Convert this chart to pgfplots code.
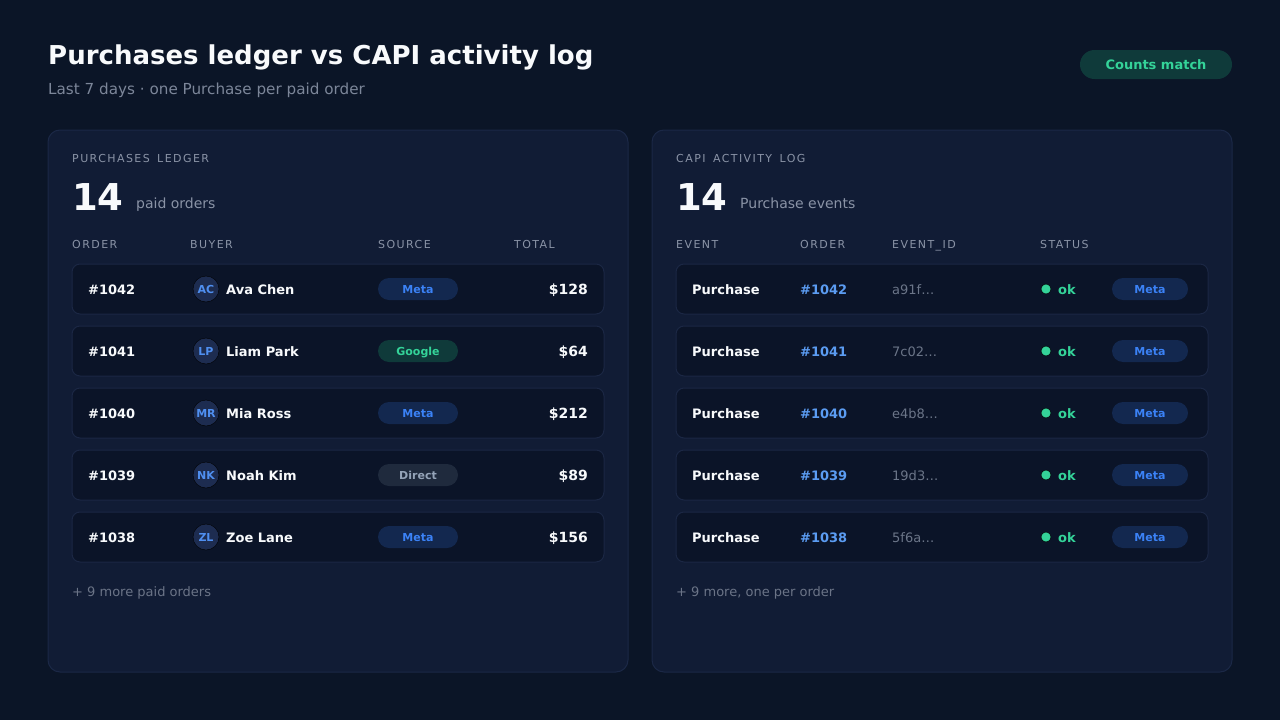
\documentclass[border=0pt]{standalone}
\usepackage{pgfplots}
\pgfplotsset{compat=1.18}
\usepackage{fontspec}
\setmainfont{DejaVu Sans}
\newfontfamily\spaced[LetterSpace=13]{DejaVu Sans}
\newcommand\fs[1]{\fontsize{#1}{#1}\selectfont}
\newcommand\wsp{\ \hspace{2.5pt}}
\definecolor{bg}{HTML}{0B1527}
\definecolor{panel}{HTML}{111C35}
\definecolor{panelline}{HTML}{1B2846}
\definecolor{rowbg}{HTML}{0B1428}
\definecolor{rowline}{HTML}{1B2744}
\definecolor{titlec}{HTML}{F8FAFC}
\definecolor{subc}{HTML}{7C8699}
\definecolor{labc}{HTML}{8A93A6}
\definecolor{footc}{HTML}{6B7487}
\definecolor{avbg}{HTML}{1D2C50}
\definecolor{avfg}{HTML}{4F8FF0}
\definecolor{metabg}{HTML}{13284F}
\definecolor{metafg}{HTML}{3B82F6}
\definecolor{gbg}{HTML}{0F3A3A}
\definecolor{gfg}{HTML}{34D399}
\definecolor{dbg}{HTML}{1F2A3D}
\definecolor{dfg}{HTML}{94A3B8}
\definecolor{ordc}{HTML}{5B9CF2}
\definecolor{idc}{HTML}{6B7588}
\pgfplotsset{
  txt/.style={only marks, mark=*, mark size=0pt, mark options={draw=none,fill=none},
    nodes near coords, point meta=explicit symbolic,
    nodes near coords style={inner sep=0pt, anchor=base west, #1}},
  pill/.style={only marks, mark=*, mark size=0pt, mark options={draw=none,fill=none},
    nodes near coords, point meta=explicit symbolic,
    nodes near coords style={inner sep=0pt, anchor=center, rounded corners=11pt,
      minimum height=22pt, text height=8pt, text depth=0pt, font=\bfseries\fs{11}, #1}},
}
\begin{document}
\begin{tikzpicture}
\begin{axis}[at={(0,0)}, anchor=south west, scale only axis, width=1280pt, height=720pt,
  xmin=0, xmax=1280, ymin=0, ymax=720, y dir=reverse, hide axis, clip=false]
% background
\fill[bg] (axis cs:0,0) rectangle (axis cs:1280,720);
% header
\node[anchor=base west, inner sep=0pt, text=titlec, font=\bfseries\fs{26}] at (axis cs:48,64) {Purchases ledger vs CAPI activity log};
\node[anchor=base west, inner sep=0pt, text=subc, font=\fs{15.2}] at (axis cs:48,94) {Last 7 days · one Purchase per paid order};
\node[fill=gbg, text=gfg, rounded corners=14.5pt, minimum width=152pt, minimum height=29pt, text height=9.5pt, text depth=0pt, inner sep=0pt, font=\bfseries\fs{13}] at (axis cs:1156,64.5) {Counts match};
% panels
\draw[fill=panel, draw=panelline, line width=1pt, rounded corners=12pt] (axis cs:48,130) rectangle (axis cs:628,672);
\draw[fill=panel, draw=panelline, line width=1pt, rounded corners=12pt] (axis cs:652,130) rectangle (axis cs:1232,672);
% panel headings
\node[anchor=base west, inner sep=0pt, text=labc, font=\spaced\fs{11}] at (axis cs:72,162) {PURCHASES\wsp LEDGER};
\node[anchor=base west, inner sep=0pt, text=labc, font=\spaced\fs{11}] at (axis cs:676,162) {CAPI\wsp ACTIVITY\wsp LOG};
\node[anchor=base west, inner sep=0pt, text=titlec, font=\bfseries\fs{37}] at (axis cs:72,210) {14};
\node[anchor=base west, inner sep=0pt, text=labc, font=\fs{14}] at (axis cs:136,208) {paid orders};
\node[anchor=base west, inner sep=0pt, text=titlec, font=\bfseries\fs{37}] at (axis cs:676,210) {14};
\node[anchor=base west, inner sep=0pt, text=labc, font=\fs{14}] at (axis cs:740,208) {Purchase events};
% column headers
\addplot[txt={font=\spaced\fs{11}, text=labc}] table[x index=0, y index=1, meta index=2, col sep=comma, header=false] {
72,248,ORDER
190,248,BUYER
378,248,SOURCE
514,248,TOTAL
676,248,EVENT
800,248,ORDER
892,248,EVENT\_ID
1040,248,STATUS
};
% row boxes
\draw[fill=rowbg, draw=rowline, line width=1pt, rounded corners=8pt] (axis cs:72,264) rectangle (axis cs:604,314);
\draw[fill=rowbg, draw=rowline, line width=1pt, rounded corners=8pt] (axis cs:72,326) rectangle (axis cs:604,376);
\draw[fill=rowbg, draw=rowline, line width=1pt, rounded corners=8pt] (axis cs:72,388) rectangle (axis cs:604,438);
\draw[fill=rowbg, draw=rowline, line width=1pt, rounded corners=8pt] (axis cs:72,450) rectangle (axis cs:604,500);
\draw[fill=rowbg, draw=rowline, line width=1pt, rounded corners=8pt] (axis cs:72,512) rectangle (axis cs:604,562);
\draw[fill=rowbg, draw=rowline, line width=1pt, rounded corners=8pt] (axis cs:676,264) rectangle (axis cs:1208,314);
\draw[fill=rowbg, draw=rowline, line width=1pt, rounded corners=8pt] (axis cs:676,326) rectangle (axis cs:1208,376);
\draw[fill=rowbg, draw=rowline, line width=1pt, rounded corners=8pt] (axis cs:676,388) rectangle (axis cs:1208,438);
\draw[fill=rowbg, draw=rowline, line width=1pt, rounded corners=8pt] (axis cs:676,450) rectangle (axis cs:1208,500);
\draw[fill=rowbg, draw=rowline, line width=1pt, rounded corners=8pt] (axis cs:676,512) rectangle (axis cs:1208,562);
% ledger: order ids
\addplot[txt={font=\bfseries\fs{13}, text=titlec}] table[x index=0, y index=1, meta index=2, col sep=comma, header=false] {
88,294,\#1042
88,356,\#1041
88,418,\#1040
88,480,\#1039
88,542,\#1038
};
% ledger: avatars
\addplot[only marks, mark=*, mark size=13pt, mark options={fill=avbg, draw=none},
  nodes near coords, point meta=explicit symbolic,
  nodes near coords style={inner sep=0pt, anchor=center, text height=8pt, text depth=0pt, font=\bfseries\fs{11}, text=avfg}]
  table[x index=0, y index=1, meta index=2, col sep=comma, header=false] {
206,289,AC
206,351,LP
206,413,MR
206,475,NK
206,537,ZL
};
% ledger: buyers
\addplot[txt={font=\bfseries\fs{13}, text=titlec}] table[x index=0, y index=1, meta index=2, col sep=comma, header=false] {
226,294,Ava Chen
226,356,Liam Park
226,418,Mia Ross
226,480,Noah Kim
226,542,Zoe Lane
};
% ledger: sources
\addplot[pill={fill=metabg, text=metafg, minimum width=80pt}] table[x index=0, y index=1, meta index=2, col sep=comma, header=false] {
418,289,Meta
418,413,Meta
418,537,Meta
};
\addplot[pill={fill=gbg, text=gfg, minimum width=80pt}] table[x index=0, y index=1, meta index=2, col sep=comma, header=false] {
418,351,Google
};
\addplot[pill={fill=dbg, text=dfg, minimum width=80pt}] table[x index=0, y index=1, meta index=2, col sep=comma, header=false] {
418,475,Direct
};
% ledger: totals
\addplot[txt={font=\bfseries\fs{14}, text=titlec, anchor=base east}] table[x index=0, y index=1, meta index=2, col sep=comma, header=false] {
588,294,\$128
588,356,\$64
588,418,\$212
588,480,\$89
588,542,\$156
};
% log: event names
\addplot[txt={font=\bfseries\fs{13}, text=titlec}] table[x index=0, y index=1, meta index=2, col sep=comma, header=false] {
692,294,Purchase
692,356,Purchase
692,418,Purchase
692,480,Purchase
692,542,Purchase
};
% log: orders
\addplot[txt={font=\bfseries\fs{13}, text=ordc}] table[x index=0, y index=1, meta index=2, col sep=comma, header=false] {
800,294,\#1042
800,356,\#1041
800,418,\#1040
800,480,\#1039
800,542,\#1038
};
% log: event ids
\addplot[txt={font=\fs{13}, text=idc}] table[x index=0, y index=1, meta index=2, col sep=comma, header=false] {
892,294,a91f…
892,356,7c02…
892,418,e4b8…
892,480,19d3…
892,542,5f6a…
};
% log: status dots
\addplot[only marks, mark=*, mark size=5pt, mark options={fill=gfg, draw=none}] table[x index=0, y index=1, header=false] {
1046 289
1046 351
1046 413
1046 475
1046 537
};
\addplot[txt={font=\bfseries\fs{13}, text=gfg}] table[x index=0, y index=1, meta index=2, col sep=comma, header=false] {
1058,294,ok
1058,356,ok
1058,418,ok
1058,480,ok
1058,542,ok
};
\addplot[pill={fill=metabg, text=metafg, minimum width=76pt}] table[x index=0, y index=1, meta index=2, col sep=comma, header=false] {
1150,289,Meta
1150,351,Meta
1150,413,Meta
1150,475,Meta
1150,537,Meta
};
% footers
\node[anchor=base west, inner sep=0pt, text=footc, font=\fs{13}] at (axis cs:72,596) {+ 9 more paid orders};
\node[anchor=base west, inner sep=0pt, text=footc, font=\fs{13}] at (axis cs:676,596) {+ 9 more, one per order};
\end{axis}
\end{tikzpicture}
\end{document}
